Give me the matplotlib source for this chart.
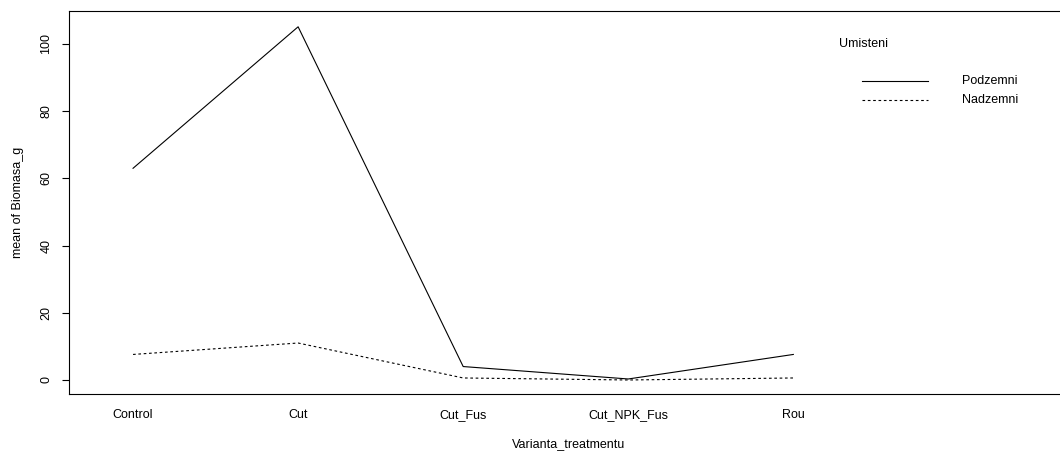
import matplotlib
matplotlib.use("Agg")
import matplotlib.pyplot as plt

categories = ["Control", "Cut", "Cut_Fus", "Cut_NPK_Fus", "Rou"]
podzemni = [63.0, 105.1, 4.0, 0.3, 7.6]
nadzemni = [7.6, 11.0, 0.6, 0.0, 0.6]
y_ticks = [0, 20, 40, 60, 80, 100]

plt.rcParams['font.family'] = ['Liberation Sans', 'DejaVu Sans']

W, H = 1060, 457
fig = plt.figure(figsize=(W / 100, H / 100), dpi=100)
left_px, right_px, top_px, bottom_px = 69, 1069, 11, 394
ax = fig.add_axes([left_px / W, 1 - bottom_px / H,
                   (right_px - left_px) / W, (bottom_px - top_px) / H])

fs = 9
x = list(range(len(categories)))
lw = 0.8
ax.plot(x, podzemni, color='black', lw=lw, linestyle='-')
ax.plot(x, nadzemni, color='black', lw=lw, linestyle=(0, (2.4, 2.4)))

ax.set_xlim(-0.388, 5.67)
ax.set_ylim(-4.17, 109.8)

ax.set_xticks(x)
ax.set_xticklabels(categories, fontsize=fs)
ax.tick_params(axis='x', length=0, pad=11)
ax.set_yticks(y_ticks)
ax.set_yticklabels([str(v) for v in y_ticks], fontsize=fs, rotation=90, va='center')
ax.tick_params(axis='y', length=5, width=0.8, pad=7)
for s in ax.spines.values():
    s.set_linewidth(0.8)

fig.text(569 / W, 1 - 444 / H, "Varianta_treatmentu", fontsize=fs, ha='center', va='center')
fig.text(18 / W, 1 - 202 / H, "mean of Biomasa_g", fontsize=fs, ha='center', va='center', rotation=90)

# legend drawn as in R's interaction.plot
fig.text(839 / W, 1 - 44 / H, "Umisteni", fontsize=fs, ha='left', va='center')
fig.add_artist(plt.Line2D([862 / W, 928 / W], [1 - 81 / H, 1 - 81 / H], color='black', lw=lw))
fig.add_artist(plt.Line2D([862 / W, 928 / W], [1 - 100 / H, 1 - 100 / H], color='black', lw=lw,
                          linestyle=(0, (2.4, 2.4))))
fig.text(962 / W, 1 - 81 / H, "Podzemni", fontsize=fs, ha='left', va='center')
fig.text(962 / W, 1 - 100 / H, "Nadzemni", fontsize=fs, ha='left', va='center')

fig.savefig("out.png", dpi=100)
